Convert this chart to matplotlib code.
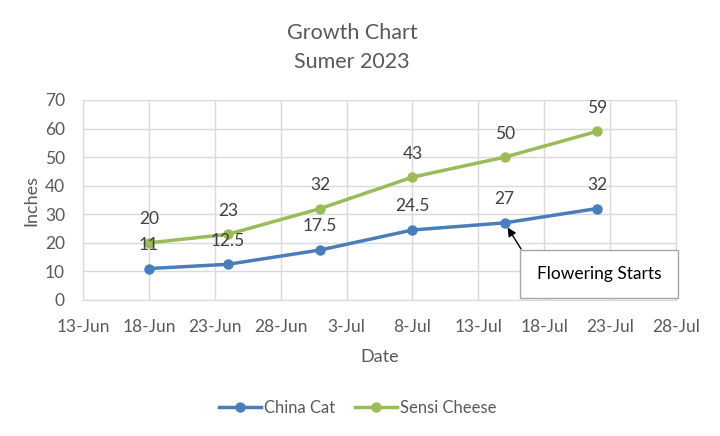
import matplotlib
matplotlib.use("Agg")
import matplotlib.pyplot as plt
import matplotlib.dates as mdates
from datetime import date, timedelta

dates = ["2023-06-18", "2023-06-24", "2023-07-01", "2023-07-08", "2023-07-15", "2023-07-22"]
china_cat = [11, 12.5, 17.5, 24.5, 27, 32]
sensi_cheese = [20, 23, 32, 43, 50, 59]
series_names = ["China Cat", "Sensi Cheese"]
title_lines = ["Growth Chart", "Sumer 2023"]
annotation_text = "Flowering Starts"

plt.rcParams['font.family'] = ['Lato', 'DejaVu Sans']
txt = '#595959'
grid = '#D9D9D9'
blue = '#4A7EBB'
green = '#9BBB59'

x = [date.fromisoformat(d) for d in dates]

fig = plt.figure(figsize=(7.2, 4.36), dpi=100)
ax = fig.add_axes([83/720, 1-300/436, 593/720, 200/436])

for vals, col, name in [(china_cat, blue, series_names[0]), (sensi_cheese, green, series_names[1])]:
    ax.plot(x, vals, color=col, lw=2.5, marker='o', ms=6.5, label=name, zorder=3)
    for xi, v in zip(x, vals):
        ax.annotate(f"{v:g}", (mdates.date2num(xi), v), xytext=(0, 17), textcoords='offset points',
                    ha='center', va='center', fontsize=12.5, color='#404040', zorder=4)

ax.set_xlim(date(2023, 6, 13), date(2023, 7, 28))
ax.set_ylim(0, 70)
ax.set_yticks(range(0, 71, 10))
ticks = [date(2023, 6, 13) + timedelta(days=5*i) for i in range(10)]
ax.set_xticks(ticks)
ax.xaxis.set_major_formatter(mdates.DateFormatter('%-d-%b'))
ax.grid(True, color=grid, lw=1)
ax.set_axisbelow(True)
for s in ax.spines.values():
    s.set_color(grid)
ax.tick_params(length=0, colors=txt, labelsize=12.5, pad=13)
ax.tick_params(axis='x', pad=14)
ax.set_xlabel("Date", fontsize=13, color=txt, labelpad=10)
ax.set_ylabel("Inches", fontsize=13, color=txt, labelpad=4)

fig.text(352/720, 1-33/436, title_lines[0], ha='center', va='center', fontsize=15.5, color=txt)
fig.text(352/720, 1-62/436, title_lines[1], ha='center', va='center', fontsize=15.5, color=txt)

ax.annotate(annotation_text, xy=(mdates.date2num(x[4]), china_cat[4]), xycoords='data',
            xytext=(599/720, 1-274/436), textcoords='figure fraction',
            ha='center', va='center', fontsize=12.5, color='black',
            bbox=dict(boxstyle='square,pad=0.95', fc='white', ec='#A6A6A6', lw=1),
            arrowprops=dict(arrowstyle='-|>', color='black', lw=1, shrinkA=0, shrinkB=4,
                            relpos=(0.0, 0.5)),
            annotation_clip=False, zorder=5)

leg = fig.legend(loc='center', bbox_to_anchor=(358/720, 1-408/436), ncol=2, frameon=False,
                 fontsize=12, handlelength=2.5, columnspacing=1.2, handletextpad=0.2)
for t in leg.get_texts():
    t.set_color(txt)

fig.savefig("out.png", dpi=100)
